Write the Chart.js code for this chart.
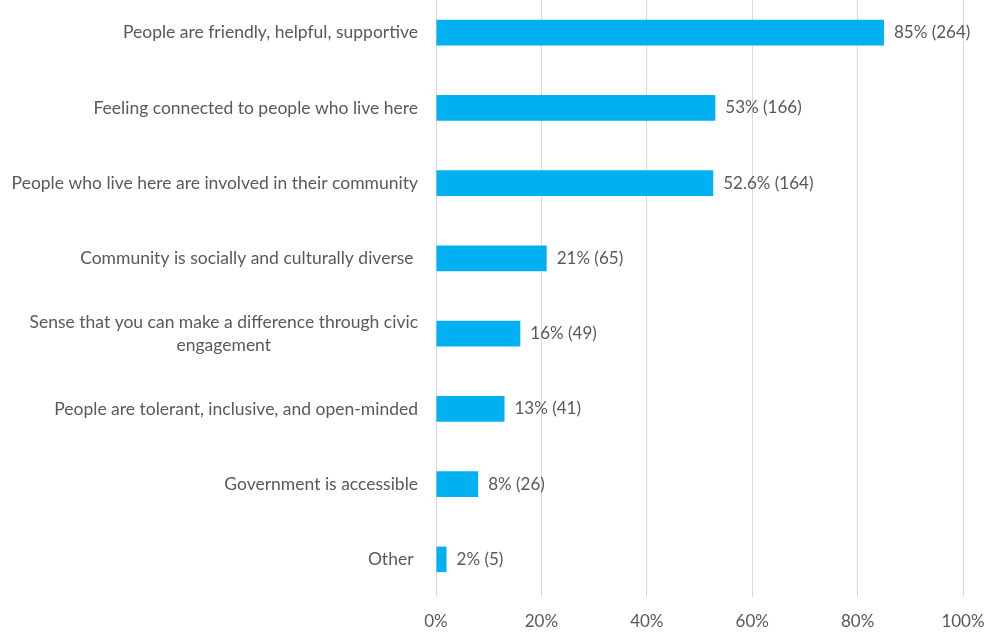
<!DOCTYPE html>
<html>
<head>
<meta charset="utf-8">
<title>What do you like about your community</title>
<script src="https://cdn.jsdelivr.net/npm/chart.js@4.4.1/dist/chart.umd.min.js"></script>
<style>
  html, body { margin: 0; padding: 0; background: #fff; overflow: hidden; }
  .chart-wrap { position: absolute; left: 0; top: -5px; width: 985px; height: 638px; }
</style>
</head>
<body>
<div class="chart-wrap"><canvas id="likeChart"></canvas></div>
<script>
const categories = [
  'People are friendly, helpful, supportive',
  'Feeling connected to people who live here',
  'People who live here are involved in their community',
  'Community is socially and culturally diverse ',
  ['Sense that you can make a difference through civic', 'engagement'],
  'People are tolerant, inclusive, and open-minded',
  'Government is accessible',
  'Other '
];
const percents = [85, 53, 52.6, 21, 16, 13, 8, 2];
const counts = [264, 166, 164, 65, 49, 41, 26, 5];
const xTicks = [0, 20, 40, 60, 80, 100];

const textColor = '#595959';
const fontFamily = 'Lato, "Open Sans", sans-serif';
const fontSize = 17;
const categoryFontSize = 17.5;

// category names, right aligned with extra lines centred under the first
const categoryLabels = {
  id: 'categoryLabels',
  afterDraw(chart) {
    const ctx = chart.ctx;
    const yScale = chart.scales.y;
    const right = chart.chartArea.left - 18;
    const lineHeight = 23.5;
    ctx.save();
    ctx.font = categoryFontSize + 'px ' + fontFamily;
    ctx.fillStyle = textColor;
    ctx.textBaseline = 'middle';
    ctx.textAlign = 'center';
    categories.forEach(function (label, i) {
      const lines = Array.isArray(label) ? label : [label];
      const widest = Math.max.apply(null, lines.map(l => ctx.measureText(l).width));
      const cx = right - widest / 2;
      const y0 = yScale.getPixelForTick(i) - (lines.length - 1) * lineHeight / 2;
      lines.forEach(function (line, j) {
        ctx.fillText(line, cx, y0 + j * lineHeight);
      });
    });
    ctx.restore();
  }
};

// "85% (264)" next to each bar end
const valueLabels = {
  id: 'valueLabels',
  afterDatasetsDraw(chart) {
    const ctx = chart.ctx;
    const bars = chart.getDatasetMeta(0).data;
    ctx.save();
    ctx.font = fontSize + 'px ' + fontFamily;
    ctx.fillStyle = textColor;
    ctx.textBaseline = 'middle';
    ctx.textAlign = 'left';
    bars.forEach(function (bar, i) {
      ctx.fillText(percents[i] + '% (' + counts[i] + ')', bar.x + 10, bar.y);
    });
    ctx.restore();
  }
};

const ctx = document.getElementById('likeChart').getContext('2d');
const likeChart = new Chart(ctx, {
  type: 'bar',
  data: {
    labels: categories,
    datasets: [{
      data: percents,
      backgroundColor: '#00b0f0',
      borderWidth: 0,
      categoryPercentage: 1,
      barPercentage: 0.34
    }]
  },
  options: {
    indexAxis: 'y',
    responsive: true,
    maintainAspectRatio: false,
    animation: false,
    layout: { padding: 0 },
    plugins: {
      legend: { display: false },
      tooltip: { enabled: false }
    },
    scales: {
      x: {
        min: 0,
        max: 100,
        afterBuildTicks: function (scale) {
          scale.ticks = xTicks.map(v => ({ value: v }));
        },
        afterFit: function (scale) {
          scale.height = 36;
          scale.paddingLeft = 0;
          scale.paddingRight = 22;
        },
        grid: { color: '#d9d9d9', lineWidth: 1, drawTicks: false },
        border: { display: false },
        ticks: {
          padding: 14,
          color: textColor,
          font: { family: fontFamily, size: fontSize },
          callback: v => v + '%'
        }
      },
      y: {
        afterFit: function (scale) { scale.width = 436; },
        grid: { display: false },
        border: { display: false },
        ticks: { display: false }
      }
    }
  },
  plugins: [categoryLabels, valueLabels]
});
</script>
</body>
</html>
